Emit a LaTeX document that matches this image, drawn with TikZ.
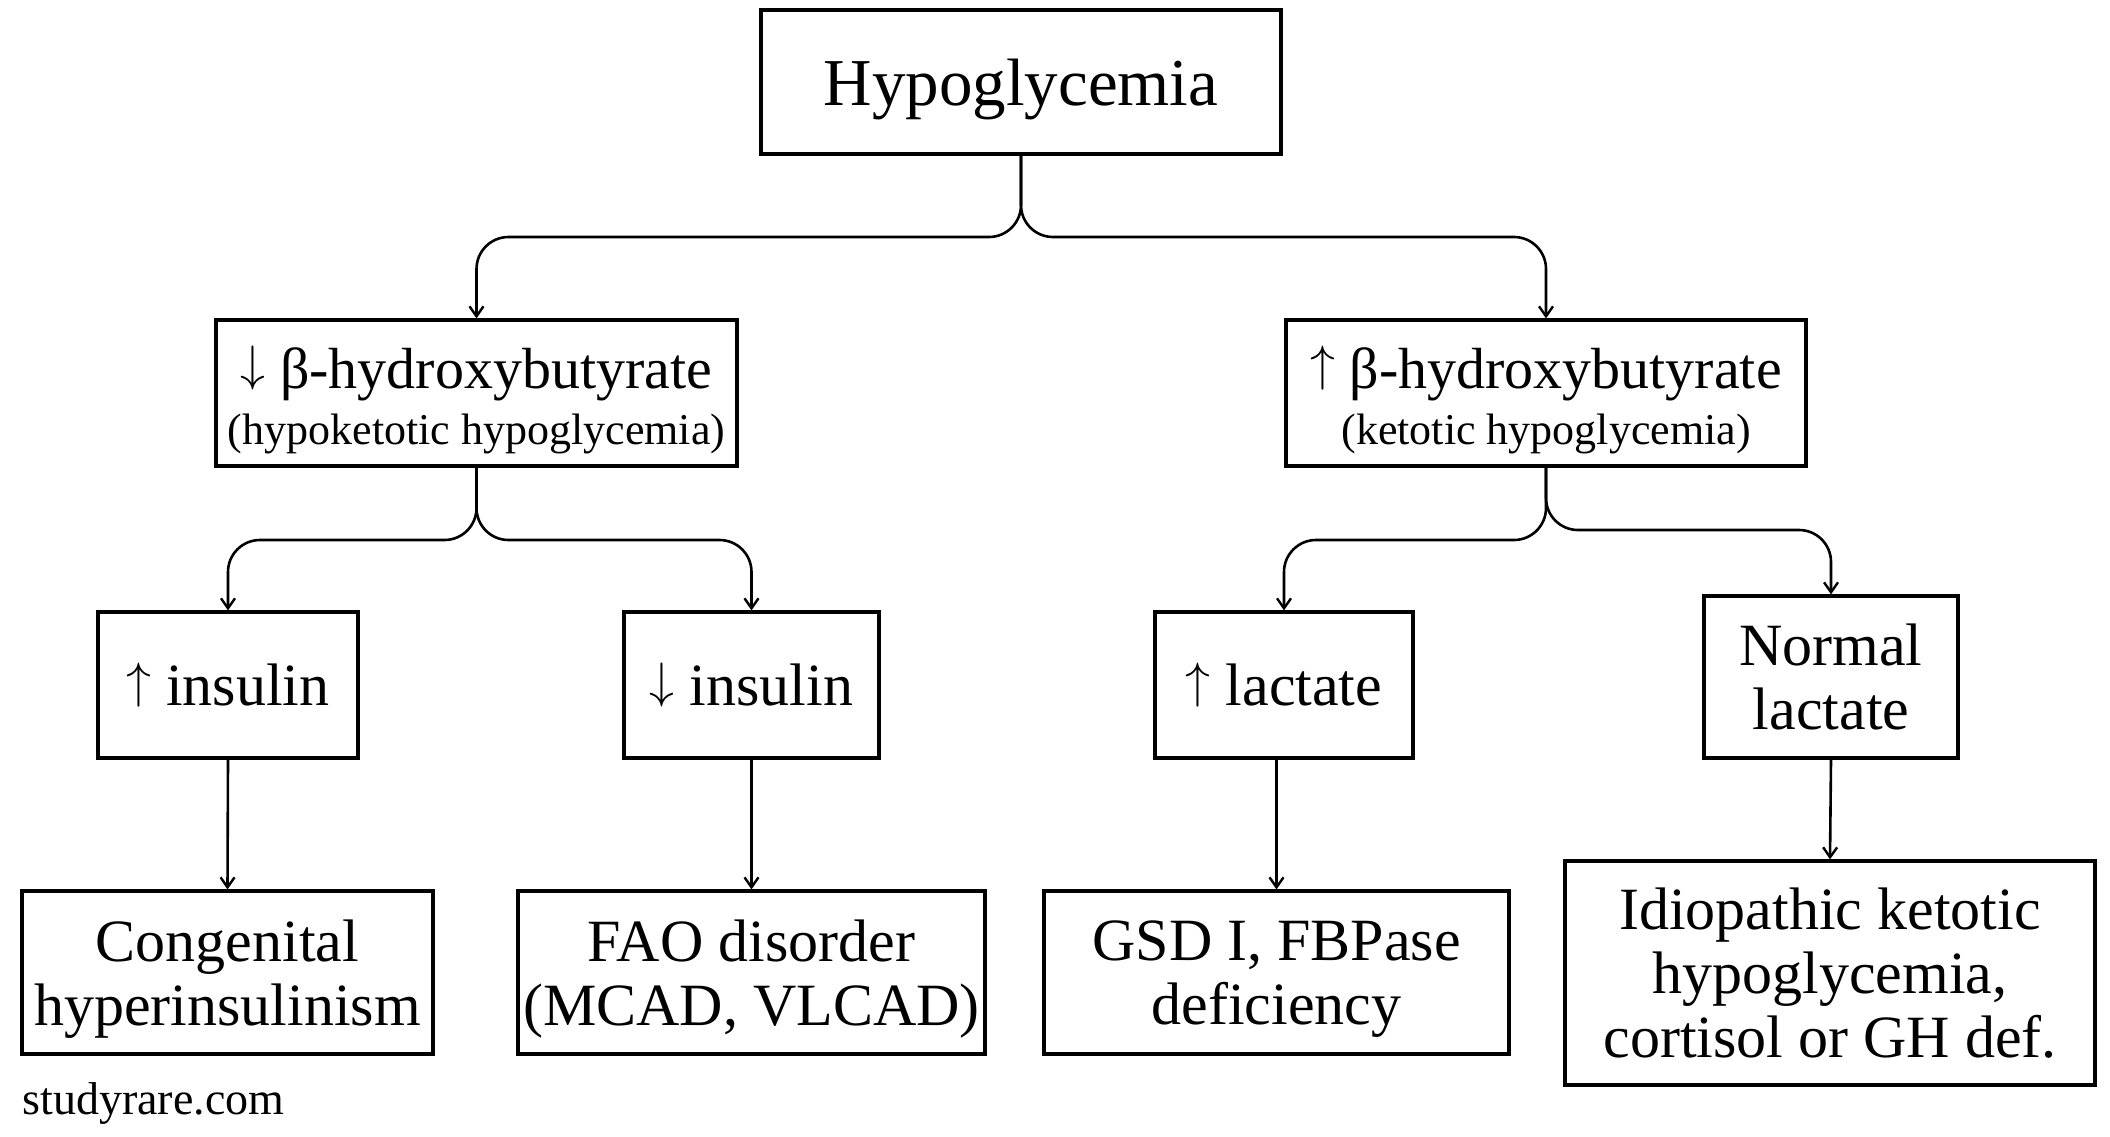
\documentclass[tikz,border=0pt]{standalone}
\usepackage{fontspec}
\usepackage{graphicx}
\setmainfont{Liberation Serif}
\usetikzlibrary{arrows.meta}
\newcommand{\upar}{\raisebox{4pt}{$\uparrow$}}
\newcommand{\dnar}{\raisebox{4pt}{$\downarrow$}}
\begin{document}
\begin{tikzpicture}[x=0.5pt,y=-0.5pt,
  box/.style={draw, line width=1.6pt, inner sep=0pt},
  txt/.style={inner sep=0pt, align=center, font=\fontsize{30}{32}\selectfont},
  conn/.style={line width=1.3pt, rounded corners=16pt,
    -{Straight Barb[length=5pt,width=7pt,line width=1.2pt]}},
  plain/.style={line width=1.3pt, -{Straight Barb[length=5pt,width=7pt,line width=1.2pt]}}]
\useasboundingbox (0,0) rectangle (2110,1136);
\fill[white] (0,0) rectangle (2110,1136);

% boxes
\node[box, minimum width=260pt, minimum height=72pt] (hypo) at (1021,82) {};
\node[box, minimum width=260.5pt, minimum height=73pt] (lb) at (476.5,393) {};
\node[box, minimum width=260pt, minimum height=73pt] (rb) at (1546,393) {};
\node[box, minimum width=130pt, minimum height=73pt] (ins1) at (228,685) {};
\node[box, minimum width=127.5pt, minimum height=73pt] (ins2) at (751.5,685) {};
\node[box, minimum width=129pt, minimum height=73pt] (lac) at (1284,685) {};
\node[box, minimum width=127pt, minimum height=81pt] (norm) at (1831,677) {};
\node[box, minimum width=205.5pt, minimum height=81.5pt] (cong) at (227.5,972.5) {};
\node[box, minimum width=233.5pt, minimum height=81.5pt] (fao) at (751.5,972.5) {};
\node[box, minimum width=232.5pt, minimum height=81.5pt] (gsd) at (1276.5,972.5) {};
\node[box, minimum width=265pt, minimum height=112pt] (idio) at (1830,973) {};

% texts
\node[txt, font=\fontsize{33.5}{36}\selectfont] (hypoT) at ([yshift=-3.5pt]hypo.center) {Hypoglycemia};
\node[txt, font=\fontsize{22}{28}\selectfont] (lbT) at ([yshift=-3.7pt]lb.center)
  {{\fontsize{29}{28}\selectfont\dnar\ β-hydroxybutyrate}\\(hypoketotic hypoglycemia)};
\node[txt, font=\fontsize{22}{28}\selectfont] (rbT) at ([yshift=-3.7pt]rb.center)
  {{\fontsize{29}{28}\selectfont\upar\ β-hydroxybutyrate}\\(ketotic hypoglycemia)};
\node[txt] (ins1T) at (ins1.center) {\upar\ insulin};
\node[txt] (ins2T) at (ins2.center) {\dnar\ insulin};
\node[txt] (lacT) at (lac.center) {\upar\ lactate};
\node[txt] (normT) at (norm.center) {Normal\\lactate};
\node[txt] (congT) at ([yshift=-3.5pt]cong.center) {Congenital\\hyperinsulinism};
\node[txt] (faoT) at ([yshift=-3.5pt]fao.center) {FAO disorder\\(MCAD, VLCAD)};
\node[txt] (gsdT) at ([yshift=-3.5pt]gsd.center) {GSD I, FBPase\\deficiency};
\node[txt] (idioT) at (idio.center) {Idiopathic ketotic\\hypoglycemia,\\cortisol or GH def.};

\node[anchor=base west, inner sep=0pt, font=\fontsize{23}{25}\selectfont] (site) at (22,1114) {studyrare.com};

% level 1 branches
\draw[conn] (hypo.south) -- (hypo.south |- 0,237) -- (lb.north |- 0,237) -- (lb.north);
\draw[conn] (hypo.south) -- (hypo.south |- 0,237) -- (rb.north |- 0,237) -- (rb.north);

% level 2 branches
\draw[conn] (lb.south) -- (lb.south |- 0,540) -- (ins1.north |- 0,540) -- (ins1.north);
\draw[conn] (lb.south) -- (lb.south |- 0,540) -- (ins2.north |- 0,540) -- (ins2.north);
\draw[conn] (rb.south) -- (rb.south |- 0,540) -- (lac.north |- 0,540) -- (lac.north);
\draw[conn] (rb.south) -- (rb.south |- 0,530) -- (norm.north |- 0,530) -- (norm.north);

% level 3
\draw[plain] (ins1.south) -- (cong.north);
\draw[plain] (ins2.south) -- (fao.north);
\draw[plain] (gsd.north |- lac.south) -- (gsd.north);
\draw[plain] (norm.south) -- (idio.north);
\end{tikzpicture}
\end{document}
